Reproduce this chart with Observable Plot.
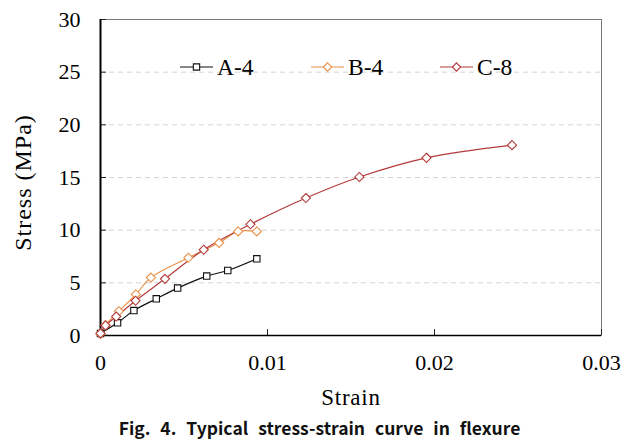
<!DOCTYPE html>
<html>
<head>
<meta charset="utf-8">
<script src="https://cdn.jsdelivr.net/npm/d3@7"></script>
<script src="https://cdn.jsdelivr.net/npm/@observablehq/plot@0.6"></script>
<style>
  body { margin: 0; background: white; }
  #caption { width: 639px; height: 36px; line-height: 36px; text-align: center;
    font-family: "Noto Sans CJK KR", "Noto Sans", sans-serif; font-weight: bold; font-size: 17.5px;
    white-space: pre; word-spacing: 6px; color: #111; }
</style>
</head>
<body>
<div id="chart"></div>
<div id="caption">Fig. 4. Typical stress-strain curve in flexure</div>
<script>
const seriesNames = ["A-4", "B-4", "C-8"];
const seriesColors = ["#111111", "#E8914A", "#B33A3A"];
const seriesSymbols = ["square", "diamond2", "diamond2"];

const strainA = [0, 0.00102, 0.002, 0.00334, 0.00462, 0.00636, 0.00762, 0.00936];
const stressA = [0.2, 1.2, 2.37, 3.48, 4.5, 5.64, 6.17, 7.28];

const strainB = [0, 0.0003, 0.0011, 0.00212, 0.00302, 0.00526, 0.0071, 0.00824, 0.00936];
const stressB = [0.15, 1.0, 2.3, 3.9, 5.5, 7.38, 8.8, 9.88, 9.88];

const strainC = [0, 0.0003, 0.00094, 0.0021, 0.00386, 0.00618, 0.00898, 0.0123, 0.0155, 0.01952, 0.02464];
const stressC = [0.2, 0.95, 1.8, 3.3, 5.38, 8.14, 10.56, 13.05, 15.05, 16.87, 18.07];

const xTicks = [0, 0.01, 0.02, 0.03];
const yTicks = [0, 5, 10, 15, 20, 25, 30];
const gridY = [5, 10, 15, 20, 25];

const toRows = (name, xs, ys) => xs.map((x, i) => ({series: name, strain: x, stress: ys[i]}));
const data = [
  ...toRows("A-4", strainA, stressA),
  ...toRows("B-4", strainB, stressB),
  ...toRows("C-8", strainC, stressC)
];

const FONT = "'Liberation Serif', 'Times New Roman', serif";
const W = 639, H = 410;
const mL = 100, mR = 38, mT = 19, mB = 75;
const plotW = W - mL - mR, plotH = H - mT - mB;

const marks = [
  Plot.ruleY(gridY, {stroke: "#d4d4d4", strokeDasharray: "5,4", strokeWidth: 1}),
  Plot.frame({stroke: "#777", strokeWidth: 1}),
  Plot.tickX(xTicks.slice(1), {x: d => d, stroke: "#222", insetTop: plotH - 6}),
  Plot.tickY(yTicks.slice(1), {y: d => d, stroke: "#222", insetRight: plotW - 6}),
  Plot.ruleX([0], {stroke: "black", strokeWidth: 2}),
  Plot.ruleY([0], {stroke: "black", strokeWidth: 1.5}),
  Plot.axisX(xTicks, {tickSize: 0, tickPadding: 19, fontSize: 22, fontFamily: FONT, tickFormat: d => String(d),
    label: null}),
  Plot.axisY(yTicks, {tickSize: 0, tickPadding: 20, fontSize: 22, fontFamily: FONT, label: null}),
  Plot.text(["Strain"], {frameAnchor: "bottom", textAnchor: "middle", lineAnchor: "middle", dy: 62,
    fontSize: 23, fontFamily: FONT, text: d => d}),
  Plot.text(["Stress (MPa)"], {frameAnchor: "left", textAnchor: "middle", lineAnchor: "middle", dx: -77, dy: 5,
    rotate: -90, fontSize: 24, fontFamily: FONT, text: d => d}),
];
seriesNames.forEach((name, i) => {
  const rows = data.filter(d => d.series === name);
  marks.push(Plot.line(rows, {x: "strain", y: "stress", stroke: seriesColors[i], strokeWidth: 1.2, curve: "catmull-rom"}));
});
seriesNames.forEach((name, i) => {
  const rows = data.filter(d => d.series === name);
  marks.push(Plot.dot(rows, {x: "strain", y: "stress", stroke: seriesColors[i], fill: "white",
    strokeWidth: 1.1, symbol: seriesSymbols[i], r: i === 0 ? 3.6 : 4.1}));
});

const chart = Plot.plot({
  width: W, height: H,
  marginLeft: mL, marginRight: mR, marginTop: mT, marginBottom: mB,
  x: {domain: [0, 0.03]},
  y: {domain: [0, 30]},
  style: {fontFamily: FONT, fontSize: "22px", background: "white", color: "black"},
  marks
});

const svg = d3.select(chart);
svg.selectAll("text").filter(function() { return this.textContent === "Strain"; }).attr("letter-spacing", "0.8px");
svg.selectAll("text").filter(function() { return this.textContent === "Stress (MPa)"; }).attr("letter-spacing", "1px");

// legend inside the plot area
const legendX = [180, 311, 440];
const legendY = 67;
const g = svg.append("g").attr("font-family", FONT).attr("font-size", 23.5)
  .attr("text-anchor", "start");
seriesNames.forEach((name, i) => {
  const x0 = legendX[i];
  g.append("line").attr("x1", x0).attr("x2", x0 + 33).attr("y1", legendY).attr("y2", legendY)
    .attr("stroke", seriesColors[i]).attr("stroke-width", 1.2);
  const sym = d3.symbol().type(i === 0 ? d3.symbolSquare : d3.symbolDiamond2).size(i === 0 ? 40 : 44);
  g.append("path").attr("d", sym()).attr("transform", `translate(${x0 + 16.5},${legendY})`)
    .attr("fill", "white").attr("stroke", seriesColors[i]).attr("stroke-width", 1.1);
  g.append("text").attr("x", x0 + 37).attr("y", legendY + 8).attr("fill", "black").text(name);
});

document.getElementById("chart").appendChild(chart);
</script>
</body>
</html>
